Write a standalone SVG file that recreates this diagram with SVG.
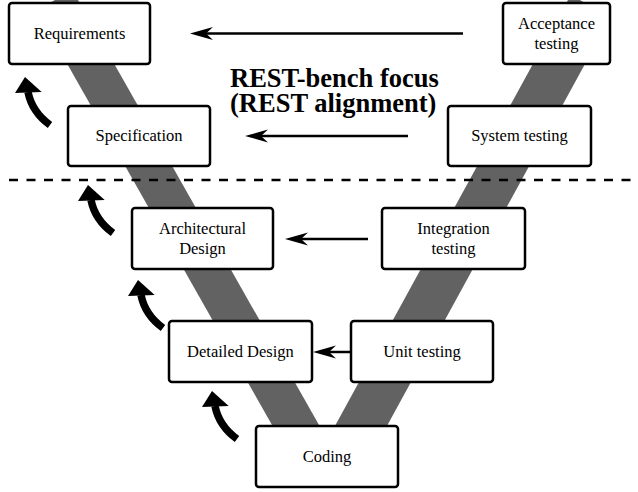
<svg xmlns="http://www.w3.org/2000/svg" xmlns:xlink="http://www.w3.org/1999/xlink" width="638" height="492" viewBox="0 0 638 492">
<style>
.box{fill:#fff;stroke:#000;stroke-width:2.5}
.lbl{font-family:"Liberation Serif","Times New Roman",serif;font-size:16.5px;text-anchor:middle;fill:#000}
.band{fill:#626262}
.arr{stroke:#000;stroke-width:2.5;fill:none}
.title{font-family:"Liberation Serif","Times New Roman",serif;font-size:26.5px;font-weight:bold;fill:#000}
.curl{fill:none;stroke:#000;stroke-width:7.5}
</style>
<defs>
<marker id="ah" markerUnits="userSpaceOnUse" viewBox="0 -8 24 16" markerWidth="24" markerHeight="16" refX="13" refY="0" orient="auto" overflow="visible">
<path d="M0,-6.5 L23,0 L0,6.5 L7,0 Z" fill="#000"/>
</marker>
<g id="curlshape">
<path class="curl" d="M3,15 C6,30 14,40 25,48"/>
<polygon points="0,0 -10,16 16.7,15" fill="#000"/>
</g>
</defs>
<rect width="638" height="492" fill="#fff"/>
<g id="vshape">
<polygon class="band" points="72.4,-9.9 350.2,480 303.2,480 36.8,10.3"/>
<polygon class="band" points="570.7,-5 610.7,17 357.4,480 305.4,480"/>
</g>
<line x1="9" y1="180" x2="638" y2="180" stroke="#000" stroke-width="2.6" stroke-dasharray="9 8.5"/>
<g id="connectors">
<line class="arr" x1="463" y1="33.5" x2="200" y2="33.5" marker-end="url(#ah)"/>
<line class="arr" x1="408" y1="136" x2="255" y2="136" marker-end="url(#ah)"/>
<line class="arr" x1="368" y1="239" x2="295" y2="239" marker-end="url(#ah)"/>
<line class="arr" x1="351" y1="352" x2="323" y2="352" marker-end="url(#ah)"/>
<use xlink:href="#curlshape" transform="translate(25,77)"/>
<use xlink:href="#curlshape" transform="translate(88,185)"/>
<use xlink:href="#curlshape" transform="translate(138,280)"/>
<use xlink:href="#curlshape" transform="translate(212,391)"/>
</g>
<g id="requirements"><rect class="box" x="9" y="3" width="141" height="61" rx="3"/><text class="lbl" x="79.5" y="38.5">Requirements</text></g>
<g id="specification"><rect class="box" x="68" y="106" width="142" height="60" rx="3"/><text class="lbl" x="139" y="141">Specification</text></g>
<g id="acceptance"><rect class="box" x="503" y="3" width="107" height="61" rx="3"/><text class="lbl" x="556.5" y="28.5">Acceptance</text><text class="lbl" x="556.5" y="48.5">testing</text></g>
<g id="system"><rect class="box" x="448" y="106" width="143" height="60" rx="3"/><text class="lbl" x="519.5" y="141">System testing</text></g>
<g id="architectural"><rect class="box" x="132" y="208" width="141" height="61" rx="3"/><text class="lbl" x="202.5" y="233.5">Architectural</text><text class="lbl" x="202.5" y="253.5">Design</text></g>
<g id="integration"><rect class="box" x="382" y="208" width="143" height="61" rx="3"/><text class="lbl" x="453.5" y="233.5">Integration</text><text class="lbl" x="453.5" y="253.5">testing</text></g>
<g id="detailed"><rect class="box" x="169" y="321" width="143" height="61" rx="3"/><text class="lbl" x="240.5" y="356.5">Detailed Design</text></g>
<g id="unit"><rect class="box" x="351" y="321" width="142" height="61" rx="3"/><text class="lbl" x="422" y="356.5">Unit testing</text></g>
<g id="coding"><rect class="box" x="256" y="426" width="142" height="61" rx="3"/><text class="lbl" x="327" y="461.5">Coding</text></g>
<g id="title">
<text class="title" x="230" y="86.7">REST-bench focus</text>
<text class="title" x="230" y="111.7">(REST alignment)</text>
</g>
</svg>
